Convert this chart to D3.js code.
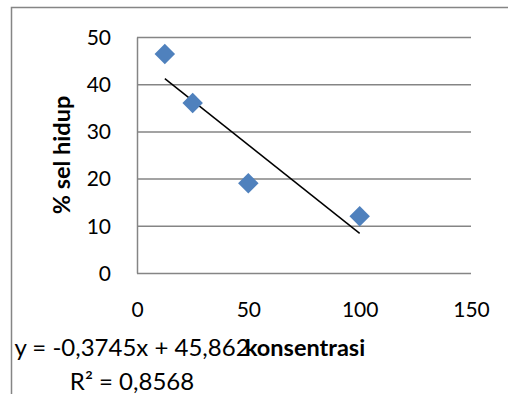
<!DOCTYPE html>
<html>
<head>
<meta charset="utf-8">
<script src="https://cdn.jsdelivr.net/npm/d3@7"></script>
<style>
  html, body { margin: 0; padding: 0; background: #fff; }
  svg { display: block; }
  text { font-family: Lato, "Open Sans", sans-serif; fill: #000; }
</style>
</head>
<body>
<svg id="chart" width="508" height="394"></svg>
<script>
// Viability measurements: concentration vs. percentage of living cells
const konsentrasi = [12.5, 25, 50, 100];
const selHidup = [46.4, 36.0, 19.0, 12.0];

// Linear trendline as reported in the label
const slope = -0.3745;
const intercept = 45.862;
const rSquared = 0.8568;

const xTicks = [0, 50, 100, 150];
const yTicks = [0, 10, 20, 30, 40, 50];

const svg = d3.select("#chart");
const plot = { left: 137, right: 471, top: 37, bottom: 273 };

const x = d3.scaleLinear().domain([0, 150]).range([plot.left, plot.right]);
const y = d3.scaleLinear().domain([0, 50]).range([plot.bottom, plot.top]);

const gray = "#858585";
const fmt = v => v.toString().replace(".", ",");

// Outer chart frame (top and left edges)
svg.append("path")
  .attr("d", "M11.5,394 L11.5,7.5 L508,7.5")
  .attr("fill", "none")
  .attr("stroke", gray)
  .attr("stroke-width", 1.5);

// Y axis with horizontal gridlines
const yAxis = d3.axisLeft(y).tickValues(yTicks).tickSize(0).tickPadding(26);
const gy = svg.append("g").attr("transform", `translate(${plot.left},0)`).call(yAxis);
gy.select(".domain").attr("stroke", gray).attr("stroke-width", 1.5);
gy.selectAll(".tick text")
  .style("font-size", "21px")
  .attr("dy", "0.35em");
gy.selectAll(".tick").append("line")
  .attr("x1", 0).attr("x2", plot.right - plot.left)
  .attr("stroke", gray).attr("stroke-width", 1.5);

// X axis tick labels
const xAxis = d3.axisBottom(x).tickValues(xTicks).tickSize(0).tickPadding(0);
const gx = svg.append("g").attr("transform", `translate(0,${plot.bottom})`).call(xAxis);
gx.select(".domain").remove();
gx.selectAll(".tick text")
  .style("font-size", "21px")
  .attr("dy", null)
  .attr("y", 44);

// Trendline over the data range
const xMin = d3.min(konsentrasi), xMax = d3.max(konsentrasi);
svg.append("line")
  .attr("x1", x(xMin)).attr("y1", y(slope * xMin + intercept))
  .attr("x2", x(xMax)).attr("y2", y(slope * xMax + intercept))
  .attr("stroke", "#000").attr("stroke-width", 1.5);

// Diamond markers
const diamond = d3.symbol().type(d3.symbolSquare).size(210);
svg.append("g").selectAll("path")
  .data(konsentrasi.map((k, i) => [k, selHidup[i]]))
  .join("path")
  .attr("d", diamond)
  .attr("transform", d => `translate(${x(d[0])},${y(d[1])}) rotate(45)`)
  .attr("fill", "#4F81BD");

// Axis titles
svg.append("text")
  .attr("transform", `translate(70,${(plot.top + plot.bottom) / 2}) rotate(-90)`)
  .attr("text-anchor", "middle")
  .style("font-size", "23.5px")
  .style("font-weight", "bold")
  .text("% sel hidup");

svg.append("text")
  .attr("x", 305).attr("y", 356)
  .attr("text-anchor", "middle")
  .style("font-size", "23.5px")
  .style("font-weight", "bold")
  .text("konsentrasi");

// Trendline equation label
const eq = svg.append("text")
  .attr("text-anchor", "middle")
  .style("font-size", "24px");
eq.append("tspan").attr("x", 132).attr("y", 356)
  .text(`y = ${fmt(slope)}x + ${fmt(intercept)}`);
eq.append("tspan").attr("x", 132).attr("y", 390)
  .text(`R² = ${fmt(rSquared)}`);
</script>
</body>
</html>
